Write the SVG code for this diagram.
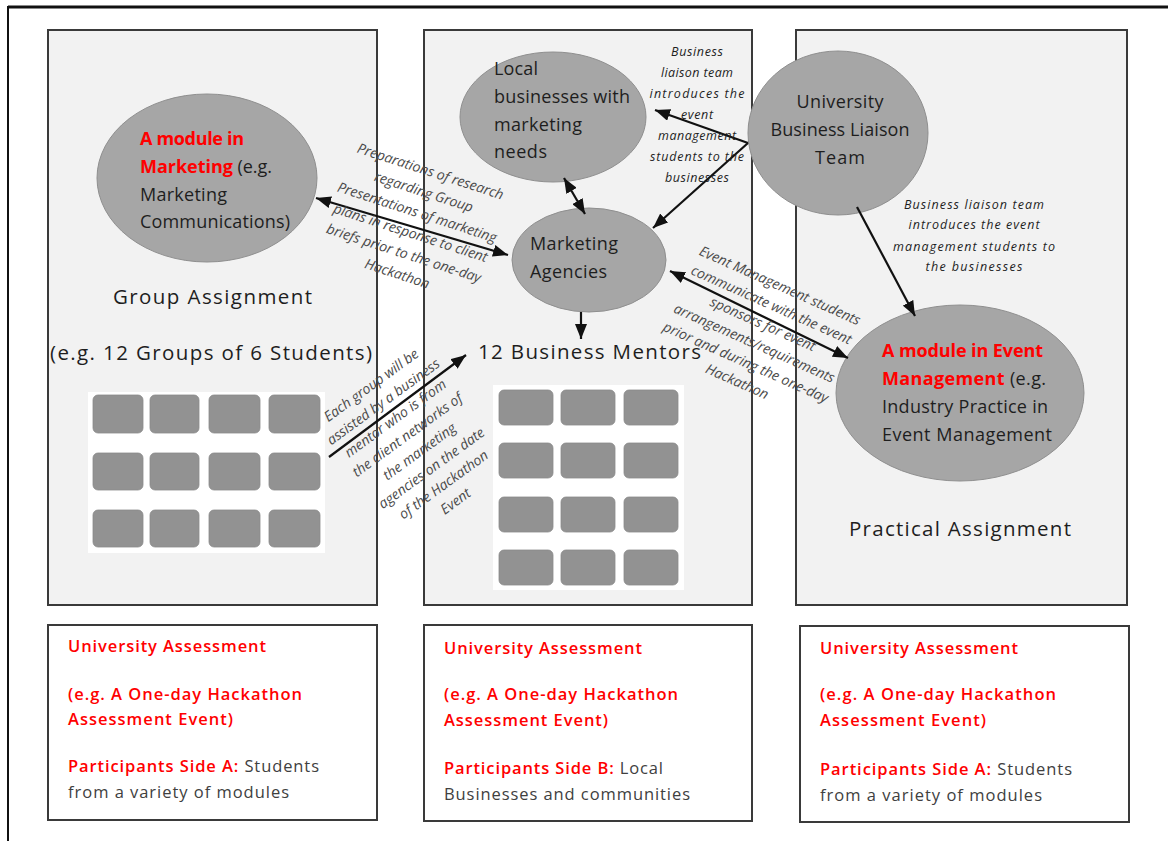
<svg xmlns="http://www.w3.org/2000/svg" width="1168" height="841" viewBox="0 0 1168 841">
<style>
.panel{fill:#f2f2f2;stroke:#3a3a3a;stroke-width:2}
.box{fill:#ffffff;stroke:#3a3a3a;stroke-width:2}
.ell{fill:#a6a6a6;stroke:#8f8f8f;stroke-width:1}
.cell{fill:#929292;stroke:#8a8a8a;stroke-width:0.8}
.t{font-family:"Open Sans","Liberation Sans",sans-serif;font-size:18px;fill:#1e1e1e}
.L{font-size:20.5px}
.red{fill:#ff0000;font-weight:bold}
.b{font-family:"Open Sans","Liberation Sans",sans-serif;font-size:16.5px;fill:#ff0000;font-weight:600}
.g{fill:#404040;font-weight:normal}
.it{font-family:"Open Sans","Liberation Sans",sans-serif;font-size:12.5px;font-style:italic;fill:#1e1e1e;text-anchor:middle}
.rot{font-family:"Open Sans","Liberation Sans",sans-serif;font-size:14px;font-style:italic;fill:#4a4a4a;text-anchor:middle}
.c{stroke:#111;stroke-width:2.2;fill:none}
</style>
<defs>
<marker id="ah" markerUnits="userSpaceOnUse" markerWidth="15" markerHeight="12" refX="15" refY="6" orient="auto-start-reverse" viewBox="0 0 15 12">
<path d="M0,0 L15,6 L0,12 z" fill="#111"/>
</marker>
</defs>
<rect width="1168" height="841" fill="#ffffff"/>
<g id="page-frame">
<line x1="8" y1="7" x2="1168" y2="7" stroke="#111" stroke-width="3"/>
<line x1="8" y1="6" x2="8" y2="841" stroke="#111" stroke-width="2"/>
</g>

<g id="panel-left">
<rect class="panel" x="48" y="30" width="329" height="575"/>
<rect x="88" y="392" width="237" height="161" fill="#ffffff"/>
<g>
<rect class="cell" x="93" y="395" width="50" height="38" rx="5"/>
<rect class="cell" x="150" y="395" width="49" height="38" rx="5"/>
<rect class="cell" x="209" y="395" width="51" height="38" rx="5"/>
<rect class="cell" x="269" y="395" width="51" height="38" rx="5"/>
<rect class="cell" x="93" y="453" width="50" height="37" rx="5"/>
<rect class="cell" x="150" y="453" width="49" height="37" rx="5"/>
<rect class="cell" x="209" y="453" width="51" height="37" rx="5"/>
<rect class="cell" x="269" y="453" width="51" height="37" rx="5"/>
<rect class="cell" x="93" y="510" width="50" height="37" rx="5"/>
<rect class="cell" x="150" y="510" width="49" height="37" rx="5"/>
<rect class="cell" x="209" y="510" width="51" height="37" rx="5"/>
<rect class="cell" x="269" y="510" width="51" height="37" rx="5"/>
</g>
<text class="t L" x="113" y="304" textLength="199">Group Assignment</text>
<text class="t L" x="50" y="360" textLength="322">(e.g. 12 Groups of 6 Students)</text>
</g>

<g id="panel-middle">
<rect class="panel" x="424" y="30" width="328" height="575"/>
<rect x="493" y="385" width="191" height="205" fill="#ffffff"/>
<g>
<rect class="cell" x="499" y="390" width="54" height="35" rx="5"/>
<rect class="cell" x="561" y="390" width="54" height="35" rx="5"/>
<rect class="cell" x="624" y="390" width="54" height="35" rx="5"/>
<rect class="cell" x="499" y="443" width="54" height="35" rx="5"/>
<rect class="cell" x="561" y="443" width="54" height="35" rx="5"/>
<rect class="cell" x="624" y="443" width="54" height="35" rx="5"/>
<rect class="cell" x="499" y="497" width="54" height="35" rx="5"/>
<rect class="cell" x="561" y="497" width="54" height="35" rx="5"/>
<rect class="cell" x="624" y="497" width="54" height="35" rx="5"/>
<rect class="cell" x="499" y="550" width="54" height="35" rx="5"/>
<rect class="cell" x="561" y="550" width="54" height="35" rx="5"/>
<rect class="cell" x="624" y="550" width="54" height="35" rx="5"/>
</g>
<text class="t L" x="478" y="359" textLength="223">12 Business Mentors</text>
</g>

<g id="panel-right">
<rect class="panel" x="796" y="30" width="331" height="575"/>
<text class="t L" x="849" y="536" textLength="222">Practical Assignment</text>
</g>

<g id="node-marketing-module">
<ellipse class="ell" cx="207" cy="178" rx="110" ry="84"/>
<text class="t red" x="140" y="145" textLength="104">A module in</text>
<text class="t" x="140" y="173" textLength="132"><tspan class="red">Marketing</tspan> (e.g.</text>
<text class="t" x="140" y="201" textLength="87">Marketing</text>
<text class="t" x="140" y="228" textLength="150">Communications)</text>
</g>

<g id="node-local-businesses">
<ellipse class="ell" cx="553" cy="117" rx="93" ry="65"/>
<text class="t" x="494" y="75" textLength="44">Local</text>
<text class="t" x="494" y="103" textLength="136">businesses with</text>
<text class="t" x="494" y="131" textLength="88">marketing</text>
<text class="t" x="494" y="158" textLength="53">needs</text>
</g>

<g id="node-marketing-agencies">
<ellipse class="ell" cx="589" cy="260" rx="77" ry="52"/>
<text class="t" x="530" y="250" textLength="88">Marketing</text>
<text class="t" x="530" y="278" textLength="77">Agencies</text>
</g>

<g id="node-liaison-team">
<ellipse class="ell" cx="838" cy="133" rx="90" ry="82"/>
<text class="t" x="840" y="108" text-anchor="middle" textLength="87">University</text>
<text class="t" x="840" y="136" text-anchor="middle" textLength="139">Business Liaison</text>
<text class="t" x="840" y="164" text-anchor="middle" textLength="50">Team</text>
</g>

<g id="node-event-module">
<ellipse class="ell" cx="960" cy="393" rx="124" ry="88"/>
<text class="t red" x="882" y="357" textLength="161">A module in Event</text>
<text class="t" x="882" y="385" textLength="164"><tspan class="red">Management</tspan> (e.g.</text>
<text class="t" x="882" y="413" textLength="166">Industry Practice in</text>
<text class="t" x="882" y="441" textLength="170">Event Management</text>
</g>

<g id="box-left">
<rect class="box" x="48" y="625" width="329" height="195"/>
<text class="b" x="68" y="652" textLength="198">University Assessment</text>
<text class="b" x="68" y="700" textLength="234">(e.g. A One-day Hackathon</text>
<text class="b" x="68" y="725" textLength="165">Assessment Event)</text>
<text class="b" x="68" y="772" textLength="251">Participants Side A:<tspan class="g"> Students</tspan></text>
<text class="b g" x="68" y="798" textLength="221">from a variety of modules</text>
</g>

<g id="box-middle">
<rect class="box" x="424" y="625" width="328" height="196"/>
<text class="b" x="444" y="654" textLength="198">University Assessment</text>
<text class="b" x="444" y="700" textLength="234">(e.g. A One-day Hackathon</text>
<text class="b" x="444" y="726" textLength="164">Assessment Event)</text>
<text class="b" x="444" y="774" textLength="219">Participants Side B:<tspan class="g"> Local</tspan></text>
<text class="b g" x="444" y="800" textLength="246">Businesses and communities</text>
</g>

<g id="box-right">
<rect class="box" x="800" y="626" width="329" height="196"/>
<text class="b" x="820" y="654" textLength="198">University Assessment</text>
<text class="b" x="820" y="700" textLength="236">(e.g. A One-day Hackathon</text>
<text class="b" x="820" y="726" textLength="166">Assessment Event)</text>
<text class="b" x="820" y="775" textLength="252">Participants Side A:<tspan class="g"> Students</tspan></text>
<text class="b g" x="820" y="801" textLength="222">from a variety of modules</text>
</g>

<g id="connectors">
<line class="c" x1="316" y1="198" x2="508" y2="255" marker-start="url(#ah)" marker-end="url(#ah)"/>
<line class="c" x1="564" y1="178" x2="585" y2="214" marker-start="url(#ah)" marker-end="url(#ah)"/>
<line class="c" x1="748" y1="143" x2="655" y2="110" marker-end="url(#ah)"/>
<line class="c" x1="748" y1="143" x2="653" y2="228" marker-end="url(#ah)"/>
<line class="c" x1="581" y1="312" x2="581" y2="339" marker-end="url(#ah)"/>
<line class="c" x1="670" y1="271" x2="848" y2="358" marker-start="url(#ah)" marker-end="url(#ah)"/>
<line class="c" x1="857" y1="207" x2="915" y2="316" marker-end="url(#ah)"/>
<line class="c" x1="329" y1="457" x2="466" y2="355" marker-end="url(#ah)"/>
</g>

<g id="labels">
<text class="it" x="697" y="56" textLength="52">Business</text>
<text class="it" x="697" y="77" textLength="72">liaison team</text>
<text class="it" x="697" y="98" textLength="95">introduces the</text>
<text class="it" x="697" y="119" textLength="32">event</text>
<text class="it" x="697" y="140" textLength="78">management</text>
<text class="it" x="697" y="161" textLength="94">students to the</text>
<text class="it" x="697" y="182" textLength="64">businesses</text>

<text class="it" x="974" y="209" textLength="140">Business liaison team</text>
<text class="it" x="974" y="229" textLength="131">introduces the event</text>
<text class="it" x="974" y="251" textLength="162">management students to</text>
<text class="it" x="974" y="271" textLength="97">the businesses</text>

<g transform="translate(429,176) rotate(18)">
<text class="rot" x="0" y="0">Preparations of research</text>
<text class="rot" x="0" y="21.5">regarding Group</text>
<text class="rot" x="0" y="43">Presentations of marketing</text>
<text class="rot" x="0" y="64.5">plans in response to client</text>
<text class="rot" x="0" y="86">briefs prior to the one-day</text>
<text class="rot" x="0" y="107.5">Hackathon</text>
</g>

<g transform="translate(778,290) rotate(24)">
<text class="rot" x="0" y="0">Event Management students</text>
<text class="rot" x="0" y="21">communicate with the event</text>
<text class="rot" x="0" y="42">sponsors for event</text>
<text class="rot" x="0" y="63">arrangements/requirements</text>
<text class="rot" x="0" y="84">prior and during the one-day</text>
<text class="rot" x="0" y="105">Hackathon</text>
</g>

<g transform="translate(374,389) rotate(-36)">
<text class="rot" x="0" y="0">Each group will be</text>
<text class="rot" x="0" y="20.5">assisted by a business</text>
<text class="rot" x="0" y="41">mentor who is from</text>
<text class="rot" x="0" y="61.5">the client networks of</text>
<text class="rot" x="0" y="82">the marketing</text>
<text class="rot" x="0" y="102.5">agencies on the date</text>
<text class="rot" x="0" y="123">of the Hackathon</text>
<text class="rot" x="0" y="143.5">Event</text>
</g>
</g>
</svg>
